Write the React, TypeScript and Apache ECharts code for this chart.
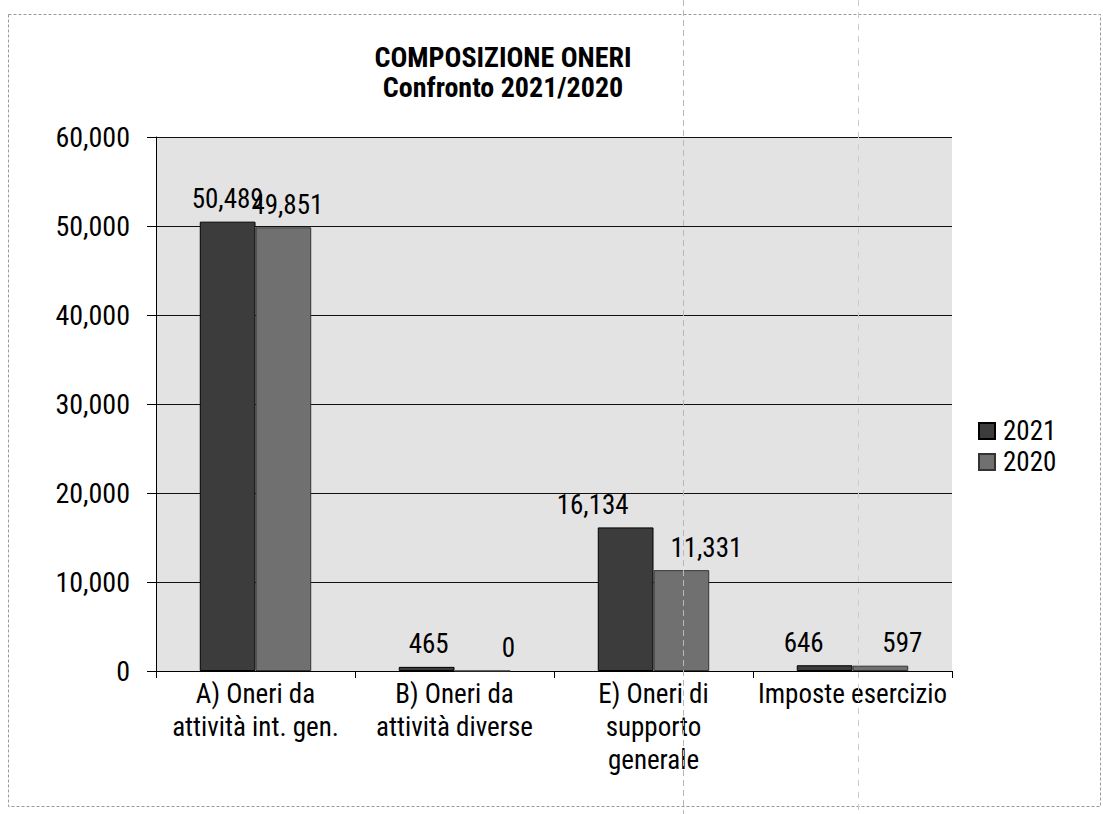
import React, { useEffect, useRef } from "react";
import * as echarts from "echarts";

const categories = [
  "A) Oneri da\nattività int. gen.",
  "B) Oneri da\nattività diverse",
  "E) Oneri di\nsupporto\ngenerale",
  "Imposte esercizio",
];
const values2021 = [50489, 465, 16134, 646];
const values2020 = [49851, 0, 11331, 597];
const yTicks = [0, 10000, 20000, 30000, 40000, 50000, 60000];

const FONT = '"Liberation Sans Narrow", "Arial Narrow", "Roboto Condensed", "Liberation Sans", sans-serif';

// label horizontal offsets (styling only)
const off2021 = [0, 2, -33, -21];
const off2020 = [4, 26, 25, 22];

const fmt = (v: number) => v.toLocaleString("en-US");

export default function App() {
  const ref = useRef<HTMLDivElement>(null);
  useEffect(() => {
    if (!ref.current) return;
    const chart = echarts.init(ref.current, undefined, { renderer: "svg" });
    const mk = (vals: number[], offs: number[]) =>
      vals.map((v, i) => ({
        value: v,
        label: { offset: [offs[i], 0] },
      }));
    const labelStyle = {
      show: true,
      position: "top",
      distance: 9,
      fontFamily: FONT,
      fontSize: 27,
      color: "#000",
      formatter: (p: any) => fmt(p.value),
    };
    chart.setOption({
      animation: false,
      backgroundColor: "#ffffff",
      title: {
        text: "COMPOSIZIONE ONERI\nConfronto 2021/2020",
        left: 498,
        top: 37,
        textAlign: "center",
        textStyle: {
          fontFamily: FONT,
          fontWeight: "bold",
          fontSize: 28,
          lineHeight: 30,
          color: "#000",
        },
      },
      legend: {
        orient: "vertical",
        left: 973,
        top: 411,
        itemWidth: 16,
        itemHeight: 16,
        itemGap: 1,
        icon: "rect",
        textStyle: { fontFamily: FONT, fontSize: 27, lineHeight: 30, color: "#000", padding: [0, 0, 0, 3] },
        data: ["2021", "2020"],
      },
      grid: {
        left: 156,
        right: 151,
        top: 137,
        bottom: 143,
        show: true,
        backgroundColor: "#e3e3e3",
        borderWidth: 0,
      },
      xAxis: {
        type: "category",
        data: categories,
        axisLine: { lineStyle: { color: "#000", width: 1 } },
        axisTick: { show: true, length: 7, lineStyle: { color: "#000" } },
        axisLabel: {
          fontFamily: FONT,
          fontSize: 27,
          lineHeight: 33,
          color: "#000",
          margin: 6,
          interval: 0,
        },
      },
      yAxis: {
        type: "value",
        min: 0,
        max: 60000,
        interval: 10000,
        axisLine: { show: true, lineStyle: { color: "#000", width: 1 } },
        axisTick: { show: true, length: 9, lineStyle: { color: "#000" } },
        splitLine: { lineStyle: { color: "#111", width: 1 } },
        axisLabel: {
          fontFamily: FONT,
          fontSize: 28,
          color: "#000",
          margin: 26,
          formatter: (v: number) => (yTicks.includes(v) ? fmt(v) : ""),
        },
      },
      series: [
        {
          name: "2021",
          type: "bar",
          data: mk(values2021, off2021),
          barGap: "0%",
          barCategoryGap: "44%",
          itemStyle: { color: "#3c3c3c", borderColor: "#000", borderWidth: 1 },
          label: labelStyle,
        },
        {
          name: "2020",
          type: "bar",
          data: mk(values2020, off2020),
          barGap: "0%",
          barCategoryGap: "44%",
          itemStyle: { color: "#707070", borderColor: "#333", borderWidth: 1 },
          label: labelStyle,
        },
      ],
      graphic: [
        {
          type: "rect",
          shape: { x: 8.5, y: 14.5, width: 1092, height: 792 },
          style: { fill: "none", stroke: "#9a9a9a", lineWidth: 1, lineDash: [3, 2] },
          silent: true,
        },
        {
          type: "line",
          shape: { x1: 683.5, y1: 0, x2: 683.5, y2: 814 },
          style: { stroke: "#b8b8b8", lineWidth: 1, lineDash: [6, 4] },
          silent: true,
          z: 100,
        },
        {
          type: "line",
          shape: { x1: 858.5, y1: 0, x2: 858.5, y2: 814 },
          style: { stroke: "#cccccc", lineWidth: 1, lineDash: [6, 6] },
          silent: true,
          z: 100,
        },
      ],
    });
    return () => chart.dispose();
  }, []);
  return (
    <div
      ref={ref}
      style={{ position: "fixed", left: 0, top: 0, width: 1103, height: 814 }}
    />
  );
}
